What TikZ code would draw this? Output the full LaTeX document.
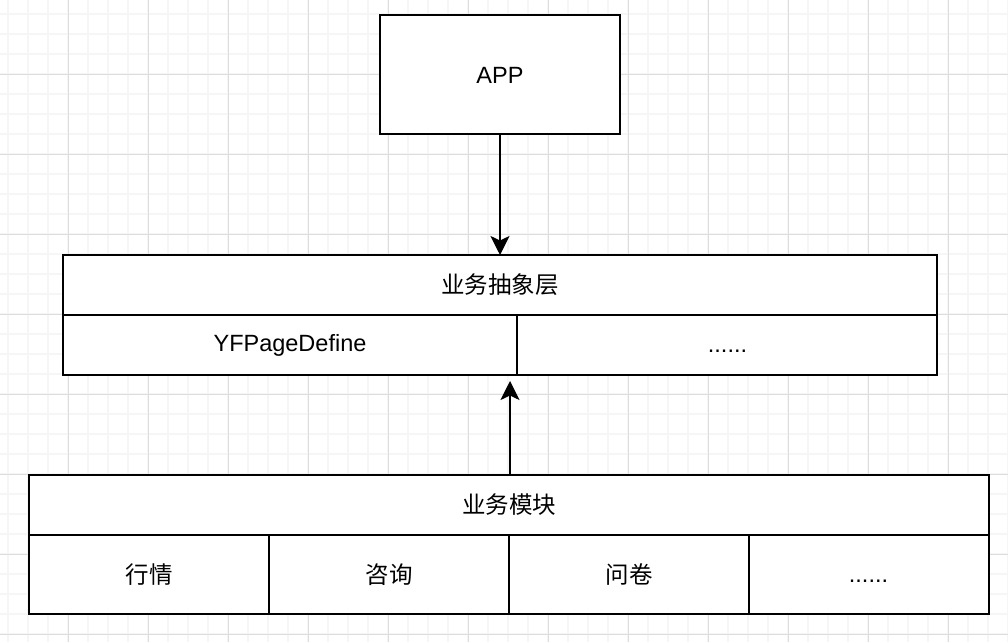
\documentclass[tikz,border=0pt]{standalone}
\usepackage{fontspec}
\setmainfont{Liberation Sans}
\newfontfamily\cjk{Noto Sans CJK SC}
\usetikzlibrary{arrows.meta}
\definecolor{minorgrid}{HTML}{F6F6F6}
\definecolor{majorgrid}{HTML}{DDDDDD}
\begin{document}
\begin{tikzpicture}[x=1pt,y=-1pt,
  box/.style={draw=black,line width=2pt,fill=white},
  lbl/.style={font=\fontsize{23.5}{28}\selectfont,inner sep=0pt,anchor=center},
  conn/.style={line width=2pt,-{Stealth[length=19pt,width=19pt,inset=4.5pt]}}]
\useasboundingbox (0,0) rectangle (1008,642);
\fill[white] (0,0) rectangle (1008,642);
% grid
\foreach \x in {8,28,...,1008} \draw[minorgrid,line width=1.2pt] (\x,0) -- (\x,642);
\foreach \y in {14,34,...,642} \draw[minorgrid,line width=1.2pt] (0,\y) -- (1008,\y);
\foreach \x in {68,148,...,1008} \draw[majorgrid,line width=1pt] (\x,0) -- (\x,642);
\foreach \y in {74,154,...,642} \draw[majorgrid,line width=1pt] (0,\y) -- (1008,\y);
% APP
\draw[box] (380,15) rectangle (620,134);
\node[lbl] (app) at (500,75) {APP};
\coordinate (appb) at (500,134);
% abstract layer
\draw[box] (63,255) rectangle (937,375);
\draw[line width=2pt] (63,315) -- (937,315);
\draw[line width=2pt] (517,315) -- (517,375);
\coordinate (abst) at (500,255);
\coordinate (absb) at (510,381);
\node[lbl] (abs) at (500,285) {\cjk 业务抽象层};
\node[lbl] (yf) at (290,345) {YFPageDefine};
\node[lbl] (dots1) at (727.5,351) {......};
% business modules
\draw[box] (29,475) rectangle (989,614);
\draw[line width=2pt] (29,535) -- (989,535);
\foreach \x in {269,509,749} \draw[line width=2pt] (\x,535) -- (\x,614);
\coordinate (modt) at (510,475);
\node[lbl] (mod) at (509,505) {\cjk 业务模块};
\node[lbl] (m1) at (149,575) {\cjk 行情};
\node[lbl] (m2) at (389,575) {\cjk 咨询};
\node[lbl] (m3) at (629,575) {\cjk 问卷};
\node[lbl] (m4) at (868.5,581) {......};
% connectors
\draw[conn] (appb) -- (abst);
\draw[conn] (modt) -- (absb);
\end{tikzpicture}
\end{document}
